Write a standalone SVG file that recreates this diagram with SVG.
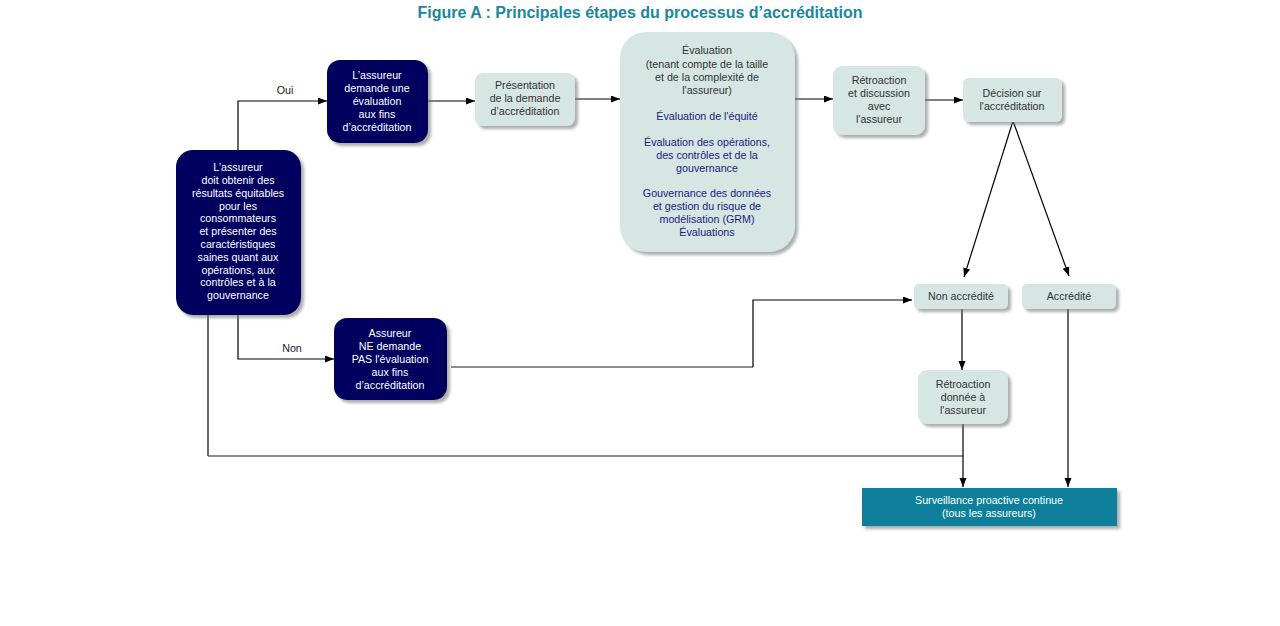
<svg xmlns="http://www.w3.org/2000/svg" width="1280" height="626" viewBox="0 0 1280 626">
<style>
text{font-family:"Liberation Sans",Arial,sans-serif;font-size:10.7px;text-anchor:middle}
.title{font-size:16px;font-weight:bold;fill:#1a87a0}
.dk{fill:#06065f;filter:url(#sh)}
.lt{fill:#d6e6e2;filter:url(#sh)}
.tl{fill:#0e7f9a;filter:url(#sh)}
.w{fill:#ffffff}
.g{fill:#333333}
.b{fill:#1a1a80}
.lbl{fill:#222222}
.c{fill:none;stroke:#000;stroke-width:1.2}
.cg{fill:none;stroke:#666;stroke-width:1.6}
.a{marker-end:url(#ar)}
</style>
<defs>
<filter id="sh" x="-10%" y="-10%" width="130%" height="130%">
<feDropShadow dx="3" dy="3" stdDeviation="1.5" flood-color="#777" flood-opacity="0.6"/>
</filter>
<marker id="ar" markerUnits="userSpaceOnUse" markerWidth="10" markerHeight="8" refX="9" refY="3.5" orient="auto">
<path d="M0,0 L9,3.5 L0,7 z" fill="#000"/>
</marker>
</defs>
<rect width="1280" height="626" fill="#fff"/>
<text class="title" x="640" y="18">Figure A : Principales étapes du processus d’accréditation</text>

<g id="connectors">
<polyline class="c a" points="238,150 238,101 327,101"/>
<text class="lbl" x="285" y="94">Oui</text>
<line class="c a" x1="428" y1="101" x2="475" y2="101"/>
<line class="c a" x1="575" y1="99" x2="620" y2="99"/>
<line class="c a" x1="795" y1="99" x2="833" y2="99"/>
<line class="c a" x1="925" y1="100" x2="963" y2="100"/>
<line class="c a" x1="1013" y1="121" x2="964" y2="277"/>
<line class="c a" x1="1013" y1="121" x2="1069" y2="276"/>
<polyline class="c a" points="238,315 238,359 334,359"/>
<text class="lbl" x="292" y="352">Non</text>
<line class="cg" x1="451" y1="367" x2="753" y2="367"/>
<polyline class="c a" points="753,367 753,300 912,300"/>
<line class="c" x1="208" y1="315" x2="208" y2="456"/>
<line class="cg" x1="208" y1="456" x2="963" y2="456"/>
<line class="c a" x1="962" y1="309" x2="962" y2="370"/>
<line class="c a" x1="963" y1="424" x2="963" y2="487"/>
<line class="c a" x1="1068" y1="309" x2="1068" y2="487"/>
</g>

<g id="nA">
<rect class="dk" x="176" y="150" width="125" height="165" rx="17"/>
<text class="w" x="238" y="171">L’assureur</text>
<text class="w" x="238" y="184">doit obtenir des</text>
<text class="w" x="238" y="197">résultats équitables</text>
<text class="w" x="238" y="210">pour les</text>
<text class="w" x="238" y="222">consommateurs</text>
<text class="w" x="238" y="235">et présenter des</text>
<text class="w" x="238" y="248">caractéristiques</text>
<text class="w" x="238" y="261">saines quant aux</text>
<text class="w" x="238" y="274">opérations, aux</text>
<text class="w" x="238" y="286">contrôles et à la</text>
<text class="w" x="238" y="299">gouvernance</text>
</g>

<g id="nB">
<rect class="dk" x="327" y="60" width="101" height="83" rx="13"/>
<text class="w" x="377" y="79">L’assureur</text>
<text class="w" x="377" y="92">demande une</text>
<text class="w" x="377" y="105">évaluation</text>
<text class="w" x="377" y="118">aux fins</text>
<text class="w" x="377" y="131">d’accréditation</text>
</g>

<g id="nC">
<rect class="lt" x="475" y="73" width="100" height="53" rx="8"/>
<text class="g" x="525" y="89">Présentation</text>
<text class="g" x="525" y="102">de la demande</text>
<text class="g" x="525" y="115">d’accréditation</text>
</g>

<g id="nD">
<rect class="lt" x="620" y="32" width="175" height="220" rx="26"/>
<text class="g" x="707" y="54">Évaluation</text>
<text class="g" x="707" y="68">(tenant compte de la taille</text>
<text class="g" x="707" y="81">et de la complexité de</text>
<text class="g" x="707" y="94">l'assureur)</text>
<text class="b" x="707" y="120">Évaluation de l'équité</text>
<text class="b" x="707" y="146">Évaluation des opérations,</text>
<text class="b" x="707" y="159">des contrôles et de la</text>
<text class="b" x="707" y="172">gouvernance</text>
<text class="b" x="707" y="197">Gouvernance des données</text>
<text class="b" x="707" y="210">et gestion du risque de</text>
<text class="b" x="707" y="223">modélisation (GRM)</text>
<text class="b" x="707" y="236">Évaluations</text>
</g>

<g id="nE">
<rect class="lt" x="833" y="66" width="92" height="69" rx="9"/>
<text class="g" x="879" y="84">Rétroaction</text>
<text class="g" x="879" y="97">et discussion</text>
<text class="g" x="879" y="110">avec</text>
<text class="g" x="879" y="123">l'assureur</text>
</g>

<g id="nF">
<rect class="lt" x="963" y="78" width="99" height="44" rx="6"/>
<text class="g" x="1012" y="97">Décision sur</text>
<text class="g" x="1012" y="110">l'accréditation</text>
</g>

<g id="nG">
<rect class="lt" x="914" y="284" width="94" height="25" rx="5"/>
<text class="g" x="961" y="300">Non accrédité</text>
</g>

<g id="nH">
<rect class="lt" x="1022" y="284" width="94" height="25" rx="5"/>
<text class="g" x="1069" y="300">Accrédité</text>
</g>

<g id="nI">
<rect class="lt" x="918" y="370" width="90" height="54" rx="9"/>
<text class="g" x="963" y="388">Rétroaction</text>
<text class="g" x="963" y="401">donnée à</text>
<text class="g" x="963" y="414">l'assureur</text>
</g>

<g id="nJ">
<rect class="tl" x="862" y="488" width="255" height="38"/>
<text class="w" x="989" y="504">Surveillance proactive continue</text>
<text class="w" x="989" y="517">(tous les assureurs)</text>
</g>

<g id="nK">
<rect class="dk" x="334" y="318" width="113" height="82" rx="13"/>
<text class="w" x="390" y="337">Assureur</text>
<text class="w" x="390" y="350">NE  demande</text>
<text class="w" x="390" y="363">PAS l'évaluation</text>
<text class="w" x="390" y="376">aux fins</text>
<text class="w" x="390" y="389">d’accréditation</text>
</g>
</svg>
